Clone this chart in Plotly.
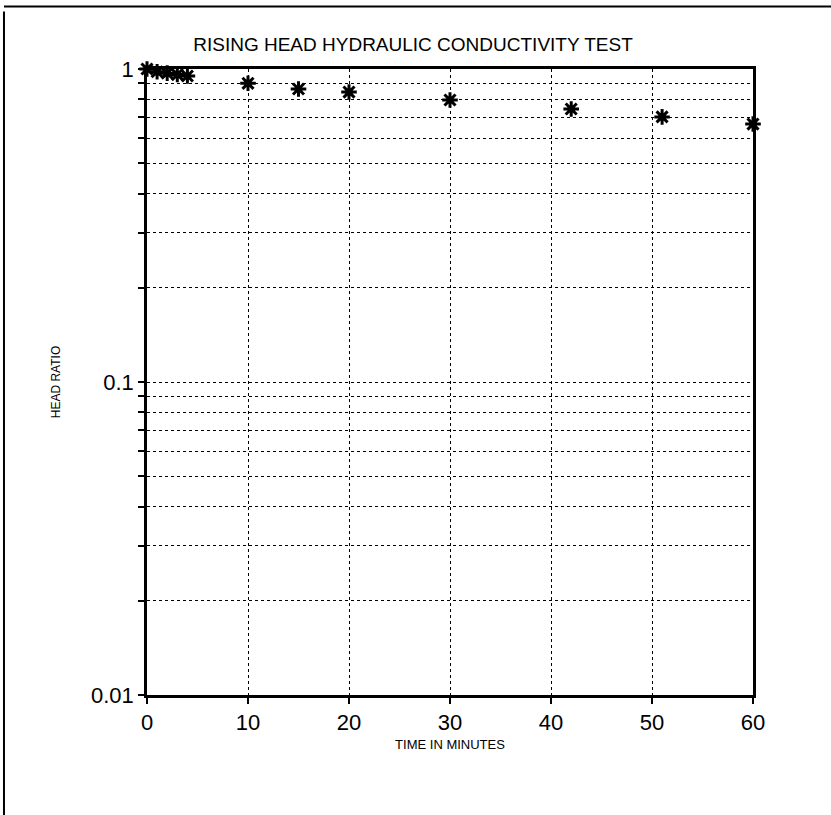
import plotly.graph_objects as go

# Data
time_min = [0, 1, 2, 3, 4, 10, 15, 20, 30, 42, 51, 60]
head_ratio = [1.0, 0.98, 0.97, 0.96, 0.95, 0.90, 0.863, 0.844, 0.796, 0.745, 0.703, 0.667]

x_ticks = [0, 10, 20, 30, 40, 50, 60]
y_grid = [m * d for d in [0.01, 0.1] for m in range(1, 10)] + [1]
y_text = ["0.01" if v == 0.01 else "0.1" if abs(v - 0.1) < 1e-12 else "1" if v == 1 else "" for v in y_grid]

FONT = "Liberation Sans, Arial, sans-serif"

fig = go.Figure()
fig.add_trace(go.Scatter(
    x=time_min, y=head_ratio, mode="markers",
    marker=dict(symbol="asterisk-open", size=13, color="black",
                line=dict(color="black", width=3)),
    cliponaxis=False, showlegend=False,
))

fig.update_layout(
    width=831, height=815,
    margin=dict(l=147, r=78, t=69, b=120),
    paper_bgcolor="white", plot_bgcolor="white",
    font=dict(family=FONT, color="black"),
    title=dict(text="RISING HEAD HYDRAULIC CONDUCTIVITY TEST",
               x=0.497, xanchor="center", y=0.945, yanchor="middle",
               font=dict(size=19, family=FONT, color="black")),
)

fig.update_xaxes(
    range=[0, 60], tickvals=x_ticks, ticktext=[str(v) for v in x_ticks],
    tickfont=dict(size=22, family=FONT, color="black"),
    ticks="outside", ticklen=6, tickwidth=2, tickcolor="black",
    showline=True, linecolor="black", linewidth=2.5, mirror=True,
    showgrid=True, gridcolor="black", griddash="dot", gridwidth=1,
    zeroline=False,
    title=dict(text="TIME IN MINUTES", font=dict(size=13, family=FONT, color="black"), standoff=6),
)

fig.update_yaxes(
    type="log", range=[-2, 0], tickvals=y_grid, ticktext=y_text,
    tickfont=dict(size=22, family=FONT, color="black"),
    ticks="outside", ticklen=6, tickwidth=2, tickcolor="black",
    showline=True, linecolor="black", linewidth=2.5, mirror=True,
    showgrid=True, gridcolor="black", griddash="dot", gridwidth=1,
    zeroline=False,
    title=dict(text="HEAD RATIO", font=dict(size=12, family=FONT, color="black"), standoff=28),
)

# outer frame of the figure
fig.add_shape(type="line", xref="paper", yref="paper",
              x0=-0.236, x1=1.13, y0=1.100, y1=1.100,
              line=dict(color="black", width=2))
fig.add_shape(type="line", xref="paper", yref="paper",
              x0=-0.236, x1=-0.236, y0=-0.195, y1=1.092,
              line=dict(color="black", width=2))

fig.write_html("out.html")
